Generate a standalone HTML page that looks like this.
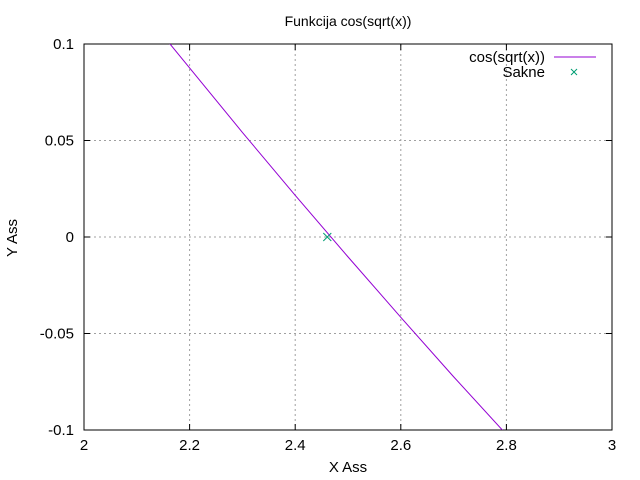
<!DOCTYPE html>
<html><head><meta charset="utf-8"><style>
body{margin:0;background:#fff;}
svg{display:block;font-family:"Liberation Sans",sans-serif;}
</style></head><body>
<svg id="c" width="640" height="480"></svg>
<script>
const xTicks=[2,2.2,2.4,2.6,2.8,3];
const xTickLabels=["2","2.2","2.4","2.6","2.8","3"];
const yTicks=[-0.1,-0.05,0,0.05,0.1];
const yTickLabels=["-0.1","-0.05","0","0.05","0.1"];
const curveX=[2.15,2.3,2.4,2.5,2.6,2.7,2.8];
const curveY=[0.1043,0.0542,0.0216,-0.0103,-0.0416,-0.0724,-0.1023];
const rootX=[2.4608];
const rootY=[0];
const L=84,R=612,T=44,B=430;
const sx=v=>L+(v-2)/(3-2)*(R-L);
const sy=v=>T+(0.1-v)/(0.2)*(B-T);
const NS="http://www.w3.org/2000/svg";
const svg=document.getElementById('c');
function mk(t,a,p){const e=document.createElementNS(NS,t);for(const k in a)e.setAttribute(k,a[k]);(p||svg).appendChild(e);return e;}
const defs=mk('defs',{});const cp=mk('clipPath',{id:'cp'},defs);mk('rect',{x:L,y:T,width:R-L,height:B-T},cp);
xTicks.forEach((v,i)=>{const x=sx(v);
 if(i>0&&i<xTicks.length-1){const g=mk('line',{x1:x,x2:x,y1:T,y2:B,stroke:'#a0a0a0','stroke-dasharray':'2,3'});
 
 }
 const t=mk('text',{x:x,y:B+20,'text-anchor':'middle','font-size':15});t.textContent=xTickLabels[i];
 
 
 mk('line',{x1:x,x2:x,y1:B,y2:B-6,stroke:'#000'});mk('line',{x1:x,x2:x,y1:T,y2:T+6,stroke:'#000'});
});
yTicks.forEach((v,i)=>{const y=sy(v);
 if(i>0&&i<yTicks.length-1){const g=mk('line',{x1:L,x2:R,y1:y,y2:y,stroke:'#a0a0a0','stroke-dasharray':'2,3'});
 
 }
 const t=mk('text',{x:L-10,y:y+5,'text-anchor':'end','font-size':15});t.textContent=yTickLabels[i];
 
 
 mk('line',{x1:L,x2:L+6,y1:y,y2:y,stroke:'#000'});mk('line',{x1:R,x2:R-6,y1:y,y2:y,stroke:'#000'});
});
const fr=mk('rect',{x:L,y:T,width:R-L,height:B-T,fill:'none',stroke:'#000'});


const pl=mk('polyline',{points:curveX.map((v,i)=>sx(v)+','+sy(curveY[i])).join(' '),fill:'none',stroke:'#9400d3','stroke-width':1,'clip-path':'url(#cp)'});


rootX.forEach((v,i)=>{const x=sx(v),y=sy(rootY[i]);
 const g=mk('path',{d:`M${x-4},${y-4}L${x+4},${y+4}M${x-4},${y+4}L${x+4},${y-4}`,stroke:'#009e73','stroke-width':1});
 
 
});
let t=mk('text',{x:545,y:62,'text-anchor':'end','font-size':15});t.textContent='cos(sqrt(x))';


mk('line',{x1:554,x2:596,y1:57,y2:57,stroke:'#9400d3'});
t=mk('text',{x:545,y:77,'text-anchor':'end','font-size':15});t.textContent='Sakne';


mk('path',{d:'M571,69L577,75M571,75L577,69',stroke:'#009e73'});
t=mk('text',{x:348,y:26,'text-anchor':'middle','font-size':14});t.textContent='Funkcija cos(sqrt(x))';


t=mk('text',{x:348,y:472,'text-anchor':'middle','font-size':15});t.textContent='X Ass';


t=mk('text',{x:0,y:0,'text-anchor':'middle','font-size':15,transform:'translate(17,238) rotate(-90)'});t.textContent='Y Ass';


</script>
</body></html>
